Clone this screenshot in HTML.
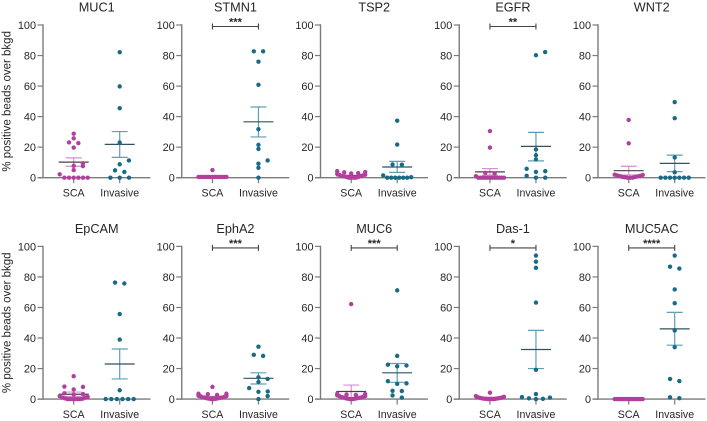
<!DOCTYPE html>
<html lang="en">
<head>
<meta charset="utf-8">
<title>Percent positive beads over background</title>
<style>
html,body{margin:0;padding:0;background:#fff;}
svg{display:block;font-family:"Liberation Sans",Arial,sans-serif;}
</style>
</head>
<body>
<svg id="chart" xmlns="http://www.w3.org/2000/svg" width="707" height="421" viewBox="0 0 707 421"></svg>
<script>
const panelNames = ['MUC1','STMN1','TSP2','EGFR','WNT2','EpCAM','EphA2','MUC6','Das-1','MUC5AC'];
const groupNames = ['SCA','Invasive'];
const yTicks = [0,20,40,60,80,100];
const yAxisTitle = '% positive beads over bkgd';
const significance = ['','***','','**','','','***','***','*','****'];

const scaValues = [
  [28.8,25.8,23.1,22.7,19.7,9.4,7.8,7.6,5,2.2,0,0,0,0,0,0],
  [5,0.5,0.5,0.5,0.5,0.5,0.5,0.5,0.5,0.5,0.5,0.5,0.5,0.5],
  [4.3,3.7,3.5,3,2.8,2.5,2,1.8,1.5,1,1,0.8,0.5,0.5,0,0,0,0],
  [30.5,19.7,3.2,2.8,1,0,0,0,0,0,0,0,0,0,0,0,0],
  [37.8,22.5,2,1.8,1.5,1.2,1,0.8,0.5,0.5,0.3,0,0,0],
  [15,8.2,8,6.3,3.8,3.3,3,2,1.5,1,1,0.5,0.3,0,0,0,0,0,0],
  [8,3.5,3.5,3.2,2.7,2.3,2,1.8,1.5,1.2,1,1,0.8,0.5,0.5,0.3,0.2,0,0],
  [62.2,3.5,3.3,3,2.7,2.5,2,2,1.5,1.3,1,1,0.8,0.5,0.5,0.3,0.2,0,0],
  [4.2,2,1.5,1.2,1,0.8,0.7,0.5,0.5,0.3,0.3,0.2,0,0,0,0],
  [0,0,0,0,0,0,0,0,0,0,0,0,0,0,0,0]
];
const invasiveValues = [
  [82.2,59.8,45.5,23,11.3,8.8,4.8,3.8,0,0,0],
  [82.8,82.8,76,60.8,31.8,21.5,18.8,11.3,9.2,6.5,0],
  [37.3,21.7,8.7,8.5,1.5,0.3,0,0,0,0,0,0],
  [82.3,80.2,18.5,14.7,12,5.8,4.3,3.8,1.2,0,0],
  [49.5,39,13.3,3.5,0,0,0,0,0,0,0],
  [76.3,75.7,55.7,39,5.8,0,0,0,0,0,0],
  [34.3,29,28.3,14.3,13.2,11.2,7.2,5,4.8,2,0],
  [71.2,28.3,22.5,22,21.5,11.7,10.3,10,5.4,5.3,2.4,1],
  [94,90,86,63.2,19.2,3.3,1.3,1,0.5,0.2,0],
  [94,86.7,85.5,71.8,62.8,45,34,13.2,11.8,1.2,0.6]
];
const scaMean  = [10.2,0.6,1.3,3.8,4.6,3.2,1.3,5,0.9,0];
const scaUpper = [13,1,1.7,6,7.5,4.6,1.8,9.2,1.2,0];
const scaLower = [7.5,0.2,0.9,1.7,1.8,1.7,0.8,1,0.6,0];
const invMean  = [21.8,36.6,7,20.5,9.4,23,13.6,17.2,32.5,46];
const invUpper = [30.2,46.3,10.7,29.7,14.8,32.8,17.2,23.3,45,56.8];
const invLower = [13.3,26.7,3.5,11,4,13.2,9.9,11,20,35.3];

const NS = 'http://www.w3.org/2000/svg';
const svg = document.getElementById('chart');
const INK = '#262626', AXIS = '#7b7b7b', BRACKET = '#444444';
const DOT = ['#b23f9e','#196b85'];
const BAR = ['#dc8ccd','#5f9fb3'];
const MEAN = ['#4a3f49','#33525e'];

function make(tag, attrs, parent){
  const el = document.createElementNS(NS, tag);
  for (const k in attrs) el.setAttribute(k, attrs[k]);
  parent.appendChild(el);
  return el;
}
function axisLeft(i){ return 43 + 138.75 * (i % 5); }
function xScale(i, g){ return axisLeft(i) + (g === 0 ? 30.7 : 76.7); }
function yScale(i, v){
  const top = i < 5 ? 25 : 246.4;
  const h = 152.7;
  return top + h - (v / 100) * h;
}
// Swarm layout: values close together share a row, and each row is spread around the centre.
// Within a row the larger values go to the outer slots, which gives the raised edges of the clusters.
function swarmOffsets(values){
  const sorted = values.map((v, k) => ({v, k})).sort((a, b) => a.v - b.v);
  const offsets = new Array(values.length).fill(0);
  let r = 0;
  while (r < sorted.length){
    let e = r;
    while (e + 1 < sorted.length && sorted[e + 1].v - sorted[r].v <= 2.6) e++;
    const n = e - r + 1;
    if (n === 2 && sorted[e].v - sorted[r].v > 1.5){
      offsets[sorted[r].k] = 0;
      offsets[sorted[e].k] = 9.2;
    } else {
      const gap = n > 1 ? Math.min(9.3, 28 / (n - 1)) : 0;
      const slots = [];
      for (let s = 0; s < n; s++) slots.push((s - (n - 1) / 2) * gap);
      slots.sort((a, b) => Math.abs(b) - Math.abs(a));
      for (let s = 0; s < n; s++) offsets[sorted[e - s].k] = slots[s];
    }
    r = e + 1;
  }
  return offsets;
}
function drawGroup(parent, i, g, values, mean, upper, lower){
  const cx = xScale(i, g);
  const grp = make('g', {}, parent);
  
  

  const stem = make('line', {x1: cx, x2: cx, y1: yScale(i, upper), y2: yScale(i, lower), stroke: BAR[g], 'stroke-width': 1.2}, grp);
  
  
  [upper, lower].forEach(val => {
    const cap = make('line', {x1: cx - 8, x2: cx + 8, y1: yScale(i, val), y2: yScale(i, val), stroke: BAR[g], 'stroke-width': 1.2}, grp);
    
    
  });
  const meanLine = make('line', {x1: cx - 15, x2: cx + 15, y1: yScale(i, mean), y2: yScale(i, mean), stroke: MEAN[g], 'stroke-width': 1.2}, grp);
  
  

  const off = swarmOffsets(values);
  values.forEach((v, k) => {
    const dot = make('circle', {cx: cx + off[k], cy: yScale(i, v), r: 2.2, fill: DOT[g]}, grp);
    
    
  });
}

panelNames.forEach((name, i) => {
  const left = axisLeft(i);
  const panel = make('g', {}, svg);
  
  

  const title = make('text', {x: left + 53.7, y: yScale(i, 100) - 13.5, 'text-anchor': 'middle', 'font-size': 12.7, fill: INK}, panel);
  title.textContent = name;
  
  

  const yAxis = make('line', {x1: left, x2: left, y1: yScale(i, 100) - 0.7, y2: yScale(i, 0) + 0.7, stroke: AXIS, 'stroke-width': 1.4}, panel);
  
  

  const xAxis = make('line', {x1: left - 5.5, x2: left + 107.5, y1: yScale(i, 0), y2: yScale(i, 0), stroke: AXIS, 'stroke-width': 1.4}, panel);
  
  

  yTicks.forEach(t => {
    const tick = make('line', {x1: left - 5.5, x2: left, y1: yScale(i, t), y2: yScale(i, t), stroke: AXIS, 'stroke-width': 1.2}, panel);
    
    
    const lab = make('text', {x: left - 7, y: yScale(i, t) + 4, 'text-anchor': 'end', 'font-size': 10.9, fill: INK}, panel);
    lab.textContent = t;
    
    
  });
  groupNames.forEach((g, gi) => {
    const cx = xScale(i, gi);
    const tick = make('line', {x1: cx, x2: cx, y1: yScale(i, 0), y2: yScale(i, 0) + 5.5, stroke: AXIS, 'stroke-width': 1.2}, panel);
    
    
    const lab = make('text', {x: cx, y: yScale(i, 0) + 18.8, 'text-anchor': 'middle', 'font-size': 10.6, fill: INK}, panel);
    lab.textContent = g;
    
    
  });

  drawGroup(panel, i, 0, scaValues[i], scaMean[i], scaUpper[i], scaLower[i]);
  drawGroup(panel, i, 1, invasiveValues[i], invMean[i], invUpper[i], invLower[i]);

  if (significance[i]){
    const x1 = xScale(i, 0), x2 = xScale(i, 1), y = yScale(i, 100) + 1.5;
    const br = make('path', {d: `M${x1} ${y - 3}V${y + 3}M${x1} ${y}H${x2}M${x2} ${y - 3}V${y + 3}`, fill: 'none', stroke: BRACKET, 'stroke-width': 1.1}, panel);
    
    
    const st = make('text', {x: (x1 + x2) / 2, y: y - 1, 'text-anchor': 'middle', 'font-size': 11, 'font-weight': 'bold', fill: INK}, panel);
    st.textContent = significance[i];
    
    
  }

  if (i % 5 === 0){
    const cy = (yScale(i, 0) + yScale(i, 100)) / 2;
    const yt = make('text', {x: 10.5, y: cy, 'text-anchor': 'middle', 'font-size': 11.5, fill: INK, transform: `rotate(-90 10.5 ${cy})`}, panel);
    yt.textContent = yAxisTitle;
    
    
  }
});
</script>
</body>
</html>
